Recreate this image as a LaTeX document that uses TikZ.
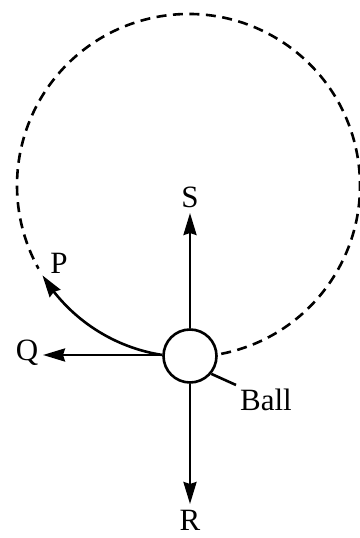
\documentclass[tikz,border=0pt]{standalone}
\usepackage{fontspec}
\setmainfont{Liberation Serif}
\usetikzlibrary{arrows.meta,bending,calc}
\tikzset{
  lw/.style={line width=2.6pt},
  arr/.style={lw,-{Stealth[length=22pt,width=13pt,inset=2pt]}},
  lbl/.style={font=\fontsize{31}{36}\selectfont, inner sep=0pt},
  dsh/.style={lw,dash pattern=on 10pt off 6.5pt}
}
\begin{document}
\begin{tikzpicture}[x=1pt,y=1pt]
\useasboundingbox (0,0) rectangle (359,538);
\coordinate (O) at (188.5,352.5);
\node[draw,lw,circle,minimum size=53pt,inner sep=0pt] (ball) at (190,182) {};
% dashed path
\coordinate (dA) at ($(O)+(281:171.5)$);
\draw[dsh] (dA) arc[start angle=281,end angle=569,radius=171.5];
% solid arc to P
\coordinate (arcS) at ($(O)+(261.2:171.5)$);
\draw[arr] (arcS) arc[start angle=261.2,end angle=211.6,radius=171.5];
% S, Q, R arrows
\coordinate (Stip) at (190,325);
\coordinate (Qtip) at (43,183);
\coordinate (Rtip) at (190,34);
\draw[arr] (ball.north) -- (Stip);
\draw[arr] (ball.west |- Qtip) -- (Qtip);
\draw[arr] (ball.south) -- (Rtip);
% labels
\node[lbl] (S) at (190,341) {S};
\node[lbl] (Q) at (27,185) {Q};
\node[lbl] (R) at (190,18) {R};
\node[lbl] (P) at (59,275) {P};
\node[lbl] (B) at (266,138) {Ball};
\coordinate (lead) at (236,153);
\draw[lw] (ball.-40) -- (lead);
\end{tikzpicture}
\end{document}
